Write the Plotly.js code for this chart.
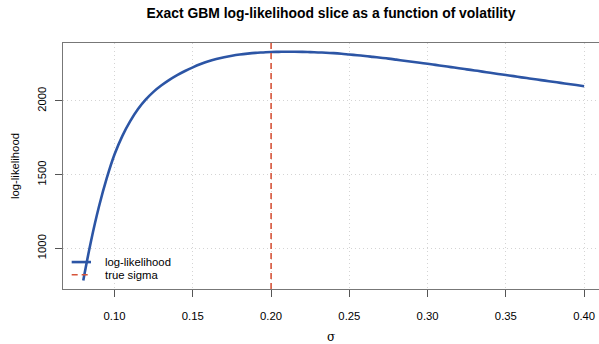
<!DOCTYPE html>
<html>
<head>
<meta charset="utf-8">
<script src="https://cdn.plot.ly/plotly-3.0.1.min.js"></script>
<style>
  html, body { margin: 0; padding: 0; background: #ffffff; overflow: hidden; }
  #chart { width: 599px; height: 344px; }
</style>
</head>
<body>
<div id="chart"></div>
<script>
// ---- data ----
const sigma = [0.080, 0.085, 0.090, 0.095, 0.100, 0.105, 0.110, 0.115, 0.120, 0.125,
               0.130, 0.135, 0.140, 0.145, 0.150, 0.155, 0.160, 0.165, 0.170, 0.175,
               0.180, 0.185, 0.190, 0.195, 0.200, 0.205, 0.210, 0.215, 0.220, 0.225,
               0.230, 0.235, 0.240, 0.245, 0.250, 0.255, 0.260, 0.265, 0.270, 0.275,
               0.280, 0.285, 0.290, 0.295, 0.300, 0.305, 0.310, 0.315, 0.320, 0.325,
               0.330, 0.335, 0.340, 0.345, 0.350, 0.355, 0.360, 0.365, 0.370, 0.375,
               0.380, 0.385, 0.390, 0.395, 0.400];
const logLik = [782, 1052, 1282, 1476, 1638, 1763, 1863, 1945, 2010, 2063,
                2106, 2143, 2175, 2203, 2228, 2250, 2269, 2285, 2297, 2307,
                2315, 2321, 2326, 2329, 2332, 2333, 2334, 2334, 2333, 2331,
                2329, 2327, 2324, 2320, 2315, 2310, 2305, 2299, 2293, 2287,
                2280, 2273, 2266, 2259, 2252, 2244.5, 2237, 2229.5, 2222, 2214,
                2207, 2199, 2191, 2183, 2175.5, 2168, 2160, 2152.5, 2145, 2137.5,
                2130, 2122.5, 2115, 2107.5, 2100];
const trueSigma = 0.20;
const xTicks = [0.10, 0.15, 0.20, 0.25, 0.30, 0.35, 0.40];
const xTickText = ["0.10", "0.15", "0.20", "0.25", "0.30", "0.35", "0.40"];
const yTicks = [1000, 1500, 2000];
const yTickText = ["1000", "1500", "2000"];
const legendLabels = ["log-likelihood", "true sigma"];

const blue = "rgb(44,85,165)";
const red = "rgb(214,84,58)";
const axisFont = { family: "Liberation Sans, Arial, sans-serif", size: 11.3, color: "#000" };

const traces = [{
  x: sigma, y: logLik, type: "scatter", mode: "lines",
  name: legendLabels[0],
  line: { color: blue, width: 2.6, shape: "spline", smoothing: 1 },
  showlegend: false, hoverinfo: "skip"
}];

const layout = {
  width: 599, height: 344,
  margin: { l: 63, r: 0, t: 43, b: 55, pad: 0 },
  paper_bgcolor: "#fff", plot_bgcolor: "#fff",
  showlegend: false,
  title: {
    text: "<b>Exact GBM log-likelihood slice as a function of volatility</b>",
    font: { family: "Liberation Sans, Arial, sans-serif", size: 13.9, color: "#000" },
    x: 0.5, xref: "paper", xanchor: "center",
    y: 1, yref: "container", yanchor: "top", pad: { t: 8 }
  },
  xaxis: {
    range: [0.06705, 0.4095],
    tickvals: xTicks, ticktext: xTickText,
    ticks: "outside", ticklen: 7, tickwidth: 1, tickcolor: "#555",
    ticklabelstandoff: 9,
    tickfont: axisFont,
    showgrid: true, gridcolor: "#d4d4d4", gridwidth: 1, griddash: "1px,3px",
    showline: true, linecolor: "#777", linewidth: 1.2, mirror: true,
    zeroline: false,
    title: { text: "σ", font: { family: "DejaVu Serif, Liberation Serif, serif", size: 12, color: "#000" }, standoff: 16 }
  },
  yaxis: {
    range: [724, 2393],
    tickvals: yTicks, ticktext: yTickText,
    ticks: "outside", ticklen: 7, tickwidth: 1, tickcolor: "#555",
    tickangle: -90, ticklabelstandoff: 4,
    tickfont: axisFont,
    showgrid: true, gridcolor: "#d4d4d4", gridwidth: 1, griddash: "1px,3px",
    showline: true, linecolor: "#777", linewidth: 1.2, mirror: false,
    zeroline: false,
    title: { text: "log-likelihood", font: axisFont, standoff: 14 }
  },
  shapes: [
    { type: "line", xref: "x", yref: "paper", x0: trueSigma, x1: trueSigma, y0: 0, y1: 1,
      line: { color: red, width: 1.6, dash: "6px,4px" } },
    // legend samples
    { type: "line", xref: "paper", yref: "paper", x0: 0.0162, x1: 0.0522, y0: 0.1095, y1: 0.1095,
      line: { color: blue, width: 2.6 } },
    { type: "line", xref: "paper", yref: "paper", x0: 0.0162, x1: 0.0522, y0: 0.058, y1: 0.058,
      line: { color: red, width: 1.6, dash: "6px,4px" } }
  ],
  annotations: [
    { xref: "paper", yref: "paper", x: 0.074, y: 0.1095, xanchor: "left", yanchor: "middle",
      text: legendLabels[0], showarrow: false, font: axisFont },
    { xref: "paper", yref: "paper", x: 0.074, y: 0.058, xanchor: "left", yanchor: "middle",
      text: legendLabels[1], showarrow: false, font: axisFont }
  ]
};

Plotly.newPlot("chart", traces, layout, { displayModeBar: false, staticPlot: true });
</script>
</body>
</html>
